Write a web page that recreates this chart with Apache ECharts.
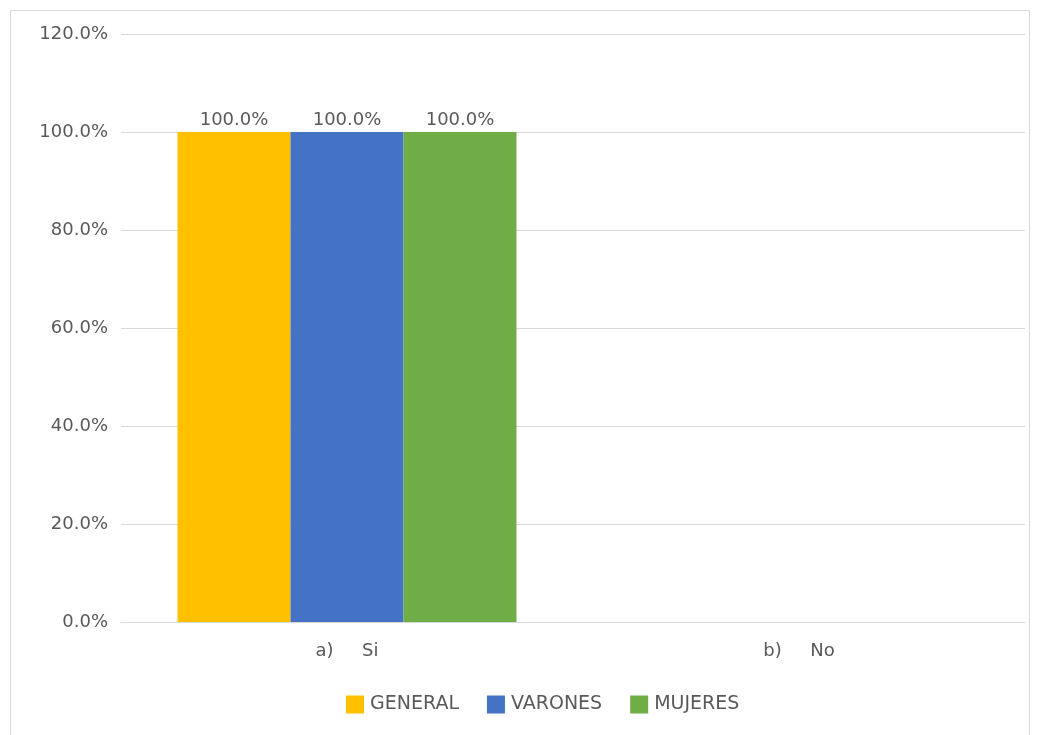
<!DOCTYPE html>
<html><head><meta charset="utf-8">
<script src="https://cdn.jsdelivr.net/npm/echarts@6/dist/echarts.min.js"></script>
<style>
html,body{margin:0;padding:0;background:#fff;}
#frame{position:absolute;left:10px;top:10px;width:1020px;height:730px;border:1px solid #d9d9d9;box-sizing:border-box;}
#c{position:absolute;left:0;top:0;width:1037px;height:735px;}
</style></head>
<body>
<div id="frame"></div>
<div id="c"></div>
<script>
const categories = ['a)     Si', 'b)     No'];
const seriesNames = ['GENERAL', 'VARONES', 'MUJERES'];
const general = [100, null];
const varones = [100, null];
const mujeres = [100, null];
const colors = ['#FFC000', '#4472C4', '#70AD47'];

const font = 'DejaVu Sans';
const chart = echarts.init(document.getElementById('c'));
const values = [general, varones, mujeres];
chart.setOption({
  animation: false,
  textStyle: {fontFamily: font},
  grid: {left: 121, right: 12, top: 34, bottom: 113, containLabel: false},
  legend: {
    data: seriesNames, top: 690, left: 341, itemWidth: 18, itemHeight: 18, itemGap: 28,
    icon: 'rect',
    textStyle: {color: '#595959', fontSize: 19, fontFamily: font, padding: [0, 0, 0, 1]}
  },
  xAxis: {
    type: 'category', data: categories,
    axisLine: {lineStyle: {color: '#d9d9d9'}}, axisTick: {show: false},
    axisLabel: {color: '#595959', fontSize: 18, margin: 20, fontFamily: font}
  },
  yAxis: {
    type: 'value', min: 0, max: 120, interval: 20,
    axisLine: {show: false}, axisTick: {show: false},
    splitLine: {lineStyle: {color: '#d9d9d9'}},
    axisLabel: {color: '#595959', fontSize: 18, margin: 13, fontFamily: font,
      formatter: v => v.toFixed(1) + '%'}
  },
  series: seriesNames.map((n, i) => ({
    name: n, type: 'bar', data: values[i], barGap: '0%', barCategoryGap: '25%',
    itemStyle: {color: colors[i]},
    label: {show: true, position: 'top', color: '#595959', fontSize: 18, fontFamily: font,
      distance: 3, formatter: p => p.value == null ? '' : p.value.toFixed(1) + '%'}
  }))
});
</script>
</body></html>
